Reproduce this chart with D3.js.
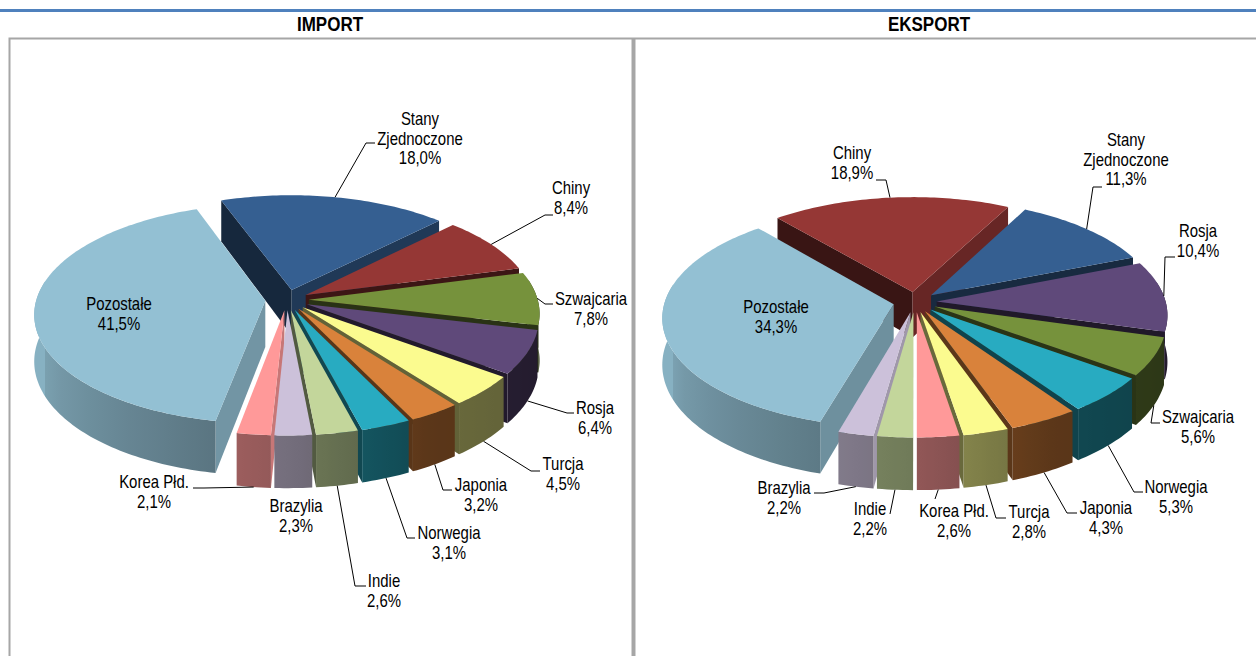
<!DOCTYPE html>
<html lang="pl">

<head>
    <meta charset="UTF-8">
    <title>Import i eksport</title>
    <script src="https://d3js.org/d3.v7.min.js"></script>
    <style>
        html, body { margin: 0; padding: 0; background: #fff; }
        svg { display: block; }
        text { font-family: "Liberation Sans", Arial, sans-serif; fill: #000; }
    </style>
</head>

<body>
    <div id="chart"></div>
    <script>
        // Chart data
        const importNames = ["Stany\nZjednoczone", "Chiny", "Szwajcaria", "Rosja", "Turcja", "Japonia", "Norwegia", "Indie", "Brazylia", "Korea Płd.", "Pozostałe"];
        const importValues = [18.0, 8.4, 7.8, 6.4, 4.5, 3.2, 3.1, 2.6, 2.3, 2.1, 41.5];
        const exportNames = ["Chiny", "Stany\nZjednoczone", "Rosja", "Szwajcaria", "Norwegia", "Japonia", "Turcja", "Korea Płd.", "Indie", "Brazylia", "Pozostałe"];
        const exportValues = [18.9, 11.3, 10.4, 5.6, 5.3, 4.3, 2.8, 2.6, 2.2, 2.2, 34.3];

        const colorNames = ["Stany\nZjednoczone", "Chiny", "Szwajcaria", "Rosja", "Turcja", "Japonia", "Norwegia", "Indie", "Brazylia", "Korea Płd.", "Pozostałe"];
        const colorValues = ["#355f91", "#953735", "#76923c", "#5f497a", "#fbfb8f", "#d9823b", "#28abc1", "#c3d69b", "#ccc1da", "#ff9999", "#93c0d3"];
        const color = d3.scaleOrdinal(colorNames, colorValues);

        // Where the labels sit: [centre x, first baseline], then the leader bend and end
        const importLabels = {
            "Stany\nZjednoczone": { at: [420, 125], leader: [[366, 143], [375, 143]] },
            "Chiny": { at: [571, 194], leader: [[545, 215], [553, 215]] },
            "Szwajcaria": { at: [591, 305], leader: [[545, 304], [553, 304]] },
            "Rosja": { at: [595, 414], leader: [[567, 413], [574, 413]] },
            "Turcja": { at: [563, 470], leader: [[531, 471], [540, 471]] },
            "Japonia": { at: [481, 491], leader: [[443, 490], [452, 490]] },
            "Norwegia": { at: [449, 539], leader: [[407, 538], [415, 538]] },
            "Indie": { at: [384, 587], leader: [[355, 586], [366, 586]] },
            "Brazylia": { at: [296, 512], leader: null },
            "Korea Płd.": { at: [154, 488], leader: [[204, 488], [193, 488]] },
            "Pozostałe": { at: [119, 310], leader: null }
        };
        const exportLabels = {
            "Chiny": { at: [852, 159], leader: [[886, 180], [876, 180]] },
            "Stany\nZjednoczone": { at: [1126, 146], leader: [[1093, 187], [1102, 187]] },
            "Rosja": { at: [1198, 237], leader: [[1165, 257], [1175, 257]] },
            "Szwajcaria": { at: [1198, 423], leader: [[1151, 423], [1160, 423]] },
            "Norwegia": { at: [1176, 493], leader: [[1134, 492], [1143, 492]] },
            "Japonia": { at: [1106, 514], leader: [[1067, 513], [1077, 513]] },
            "Turcja": { at: [1029, 518], leader: [[996, 518], [1006, 518]] },
            "Korea Płd.": { at: [954, 517], leader: [[935, 499]] },
            "Indie": { at: [870, 515], leader: [[890, 514]] },
            "Brazylia": { at: [784, 494], leader: [[824, 493], [814, 493]] },
            "Pozostałe": { at: [776, 313], leader: null }
        };

        const width = 1256;
        const height = 656;
        const radiusX = 229;   // half width of the pie at its middle
        const radiusY = 108;   // flattened half height
        const wallHeight = 46;
        const perspective = 0.116;
        const explode = 0.095;
        const lineGap = 19.7;

        // how much of the slice colour is left on a wall, by the way the wall faces (degrees, clockwise from back)
        const outerShade = d3.scaleLinear().domain([90, 150, 180, 200, 270]).range([0.36, 0.42, 0.57, 0.65, 0.92]).clamp(true);
        const sideShade = d3.scaleLinear().domain([100, 135, 165, 200, 250]).range([0.78, 0.6, 0.4, 0.33, 0.42]).clamp(true);

        const svg = d3.select("#chart").append("svg")
            .attr("width", width)
            .attr("height", height);
        const defs = svg.append("defs");

        const shade = (name, k) => {
            const c = d3.rgb(color(name));
            return d3.rgb(c.r * k, c.g * k, c.b * k).formatHex();
        };
        const toDeg = (a) => ((a * 180 / Math.PI) % 360 + 360) % 360;

        // Table lines and the band on top
        svg.append("rect").attr("x", 0).attr("y", 9).attr("width", width).attr("height", 3).attr("fill", "#4f81bd");
        svg.append("path")
            .attr("d", "M9.5 656V38.5H632.5V656M634.5 656V38.5H1256")
            .attr("fill", "none")
            .attr("stroke", "#a6a6a6")
            .attr("stroke-width", 2);

        function drawPie(id, title, titleX, names, values, labels, centerX, centerY, startDeg) {
            const root = svg.append("g");

            root.append("text")
                .attr("transform", `translate(${titleX},31) scale(0.85,1)`)
                .attr("text-anchor", "middle")
                .attr("font-size", 20)
                .attr("font-weight", "bold")
                .text(title);

            const start = startDeg * Math.PI / 180;
            const arcs = d3.pie().sort(null).startAngle(start).endAngle(start + 2 * Math.PI)(values)
                .map((d, i) => ({ ...d, name: names[i], mid: (d.startAngle + d.endAngle) / 2 }));

            // world point on a slice -> screen, r = 1 at the rim, z = 1 at the bottom of the wall
            const project = (d, angle, r, z) => {
                const wx = explode * Math.sin(d.mid) + r * Math.sin(angle);
                const wy = -explode * Math.cos(d.mid) - r * Math.cos(angle);
                const s = 1 / (1 - perspective * wy);
                return [centerX + radiusX * wx * s, centerY + radiusY * wy * s + wallHeight * z * s];
            };
            const rim = (d, a0, a1, z) => {
                const n = Math.max(2, Math.ceil((a1 - a0) / 0.02));
                return d3.range(n + 1).map((i) => project(d, a0 + (a1 - a0) * i / n, 1, z));
            };
            const line = d3.line();

            // Paint from the back of the pie to the front
            const order = arcs.slice().sort((a, b) => d3.descending(Math.cos(a.mid), Math.cos(b.mid)));

            const slices = root.selectAll("g.slice")
                .data(order)
                .join("g")
                .attr("class", "slice");

            slices.each(function (d, i) {
                const g = d3.select(this);

                // radial walls, only the ones turned to the viewer
                [[d.startAngle, d.startAngle - Math.PI / 2], [d.endAngle, d.endAngle + Math.PI / 2]].forEach(([edge, normal]) => {
                    if (Math.cos(normal) >= 0) return;
                    const quad = [project(d, edge, 0, 0), project(d, edge, 1, 0), project(d, edge, 1, 1), project(d, edge, 0, 1)];
                    g.append("path")
                        .attr("d", line(quad) + "Z")
                        .attr("fill", shade(d.name, sideShade(toDeg(normal))));
                });

                // outer wall, with a shade that follows the rim
                const a0 = Math.max(d.startAngle, Math.PI * 0.44);
                const a1 = Math.min(d.endAngle, Math.PI * 1.56);
                if (a1 > a0) {
                    const top = rim(d, a0, a1, 0);
                    const bottom = rim(d, a0, a1, 1).reverse();
                    const gradId = `${id}-wall-${i}`;
                    const x0 = project(d, a0, 1, 0)[0];
                    const x1 = project(d, a1, 1, 0)[0];
                    const stops = d3.range(9).map((k) => a0 + (a1 - a0) * k / 8);
                    defs.append("linearGradient")
                        .attr("id", gradId)
                        .attr("gradientUnits", "userSpaceOnUse")
                        .attr("x1", x0).attr("x2", x1 === x0 ? x0 + 1 : x1)
                        .attr("y1", 0).attr("y2", 0)
                        .selectAll("stop")
                        .data(stops)
                        .join("stop")
                        .attr("offset", (a) => Math.max(0, Math.min(1, (project(d, a, 1, 0)[0] - x0) / (x1 - x0 || 1))))
                        .attr("stop-color", (a) => shade(d.name, outerShade(toDeg(a))));
                    g.append("path")
                        .attr("d", line(top.concat(bottom)) + "Z")
                        .attr("fill", `url(#${gradId})`);
                }

                // top face
                g.append("path")
                    .attr("d", line([project(d, 0, 0, 0)].concat(rim(d, d.startAngle, d.endAngle, 0))) + "Z")
                    .attr("fill", color(d.name));
            });

            // Leaders and labels
            const leaders = root.selectAll("path.leader")
                .data(arcs.filter((d) => labels[d.name].leader))
                .join("path")
                .attr("class", "leader")
                .attr("fill", "none")
                .attr("stroke", "#000")
                .attr("stroke-width", 1)
                .attr("d", (d) => {
                    const deg = toDeg(d.mid);
                    const z = deg > 100 && deg < 260 ? 1 : 0;
                    return line([project(d, d.mid, 1, z)].concat(labels[d.name].leader));
                });

            const label = root.selectAll("g.label")
                .data(arcs)
                .join("g")
                .attr("class", "label")
                .attr("transform", (d) => `translate(${labels[d.name].at})`);

            label.selectAll("text")
                .data((d) => d.name.split("\n").concat(d3.format(".1f")(d.value).replace(".", ",") + "%"))
                .join("text")
                .attr("transform", (t, i) => `translate(0,${i * lineGap}) scale(0.83,1)`)
                .attr("text-anchor", "middle")
                .attr("font-size", 18)
                .text((t) => t);
        }

        drawPie("imp", "IMPORT", 330, importNames, importValues, importLabels, 287, 300, -20);
        drawPie("exp", "EKSPORT", 929, exportNames, exportValues, exportLabels, 915, 302, -40.5);
    </script>
</body>

</html>
